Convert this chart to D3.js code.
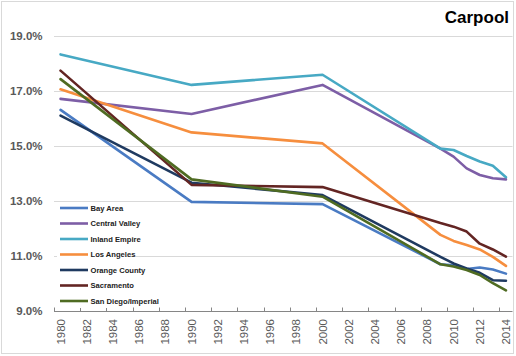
<!DOCTYPE html>
<html>
<head>
<meta charset="utf-8">
<script src="https://cdn.jsdelivr.net/npm/d3@7"></script>
<style>
html,body{margin:0;padding:0;background:#fff;}
svg{display:block;font-family:"Liberation Sans",Arial,sans-serif;}
</style>
</head>
<body>
<svg id="chart" width="516" height="356"></svg>
<script>
// ---- data ----
const years = [1980, 1990, 2000, 2009, 2010, 2011, 2012, 2013, 2014];
const seriesNames = ["Bay Area", "Central Valley", "Inland Empire", "Los Angeles", "Orange County", "Sacramento", "San Diego/Imperial"];
const bayArea       = [16.31, 12.96, 12.88, 10.69, 10.65, 10.52, 10.57, 10.50, 10.35];
const centralValley = [16.71, 16.16, 17.22, 14.90, 14.61, 14.18, 13.94, 13.82, 13.78];
const inlandEmpire  = [18.33, 17.22, 17.59, 14.90, 14.85, 14.63, 14.43, 14.28, 13.86];
const losAngeles    = [17.06, 15.49, 15.09, 11.76, 11.54, 11.39, 11.23, 10.96, 10.63];
const orangeCounty  = [16.10, 13.66, 13.21, 10.96, 10.72, 10.54, 10.38, 10.11, 10.09];
const sacramento    = [17.74, 13.58, 13.50, 12.19, 12.06, 11.88, 11.44, 11.23, 10.97];
const sanDiego      = [17.43, 13.78, 13.15, 10.69, 10.61, 10.48, 10.30, 10.00, 9.74];
const yTicks = [9, 11, 13, 15, 17, 19];
const xLabelYears = d3.range(1980, 2015, 2);
const titleText = "Carpool";

const seriesValues = [bayArea, centralValley, inlandEmpire, losAngeles, orangeCounty, sacramento, sanDiego];
const colors = ["#4a7bc3", "#7d5ea6", "#47a9c4", "#f68e3e", "#1f3a60", "#632523", "#4f6b22"];

// ---- layout ----
const svg = d3.select("#chart");
const mLeft = 54, mRight = 512.5, mTop = 36, mBottom = 310.7;

const x = d3.scaleLinear().domain([1979.5, 2014.5]).range([mLeft, mRight]);
const y = d3.scaleLinear().domain([9, 19]).range([mBottom, mTop]);

// border
svg.append("rect").attr("x", 1.5).attr("y", 1.5).attr("width", 512).attr("height", 352)
  .attr("fill", "#fff").attr("stroke", "#d9d9d9").attr("stroke-width", 1);

// gridlines
svg.append("g").selectAll("line").data(yTicks.filter(d => d > 9)).join("line")
  .attr("x1", mLeft).attr("x2", mRight)
  .attr("y1", d => Math.round(y(d)) + 0.5).attr("y2", d => Math.round(y(d)) + 0.5)
  .attr("stroke", "#d9d9d9").attr("stroke-width", 1);

// y labels
svg.append("g").selectAll("text").data(yTicks).join("text")
  .attr("x", 42.5).attr("y", d => y(d)).attr("dy", "0.36em")
  .attr("text-anchor", "end").attr("font-size", "11.5px").attr("font-weight", "bold")
  .attr("fill", "#595959")
  .text(d => d3.format(".1f")(d) + "%");

// x axis line + ticks
const axisY = Math.round(mBottom) + 0.5;
svg.append("line").attr("x1", mLeft).attr("x2", mRight).attr("y1", axisY).attr("y2", axisY)
  .attr("stroke", "#868686").attr("stroke-width", 1);
svg.append("g").selectAll("line").data(xLabelYears).join("line")
  .attr("x1", d => Math.round(x(d - 0.5)) + 0.5).attr("x2", d => Math.round(x(d - 0.5)) + 0.5)
  .attr("y1", axisY).attr("y2", axisY - 4)
  .attr("stroke", "#868686").attr("stroke-width", 1);

// x labels
svg.append("g").selectAll("text").data(xLabelYears).join("text")
  .attr("transform", d => `translate(${x(d) + 4},319) rotate(-90)`)
  .attr("text-anchor", "end").attr("font-size", "11.5px").attr("fill", "#595959")
  .text(d => d);

// lines
const line = d3.line().x((d, i) => x(years[i])).y(d => y(d));
svg.append("g").selectAll("path").data(seriesValues).join("path")
  .attr("d", d => line(d))
  .attr("fill", "none")
  .attr("stroke", (d, i) => colors[i])
  .attr("stroke-width", 2.6)
  .attr("stroke-linejoin", "round")
  .attr("stroke-linecap", "round");

// title
svg.append("text").attr("x", 509).attr("y", 22.5).attr("text-anchor", "end")
  .attr("font-size", "17px").attr("font-weight", "bold").attr("fill", "#000")
  .text(titleText);

// legend
const legend = svg.append("g");
legend.append("rect").attr("x", 57).attr("y", 202).attr("width", 68).attr("height", 106).attr("fill", "#fff");
const leg = legend.selectAll("g").data(seriesNames).join("g")
  .attr("transform", (d, i) => `translate(0,${208 + i * 15.5})`);
leg.append("line").attr("x1", 60).attr("x2", 88).attr("y1", 0).attr("y2", 0)
  .attr("stroke", (d, i) => colors[i]).attr("stroke-width", 2.6);
leg.append("text").attr("x", 90.5).attr("y", 0).attr("dy", "0.35em")
  .attr("font-size", "7.6px").attr("font-weight", "bold").attr("fill", "#222")
  .text(d => d);
</script>
</body>
</html>
